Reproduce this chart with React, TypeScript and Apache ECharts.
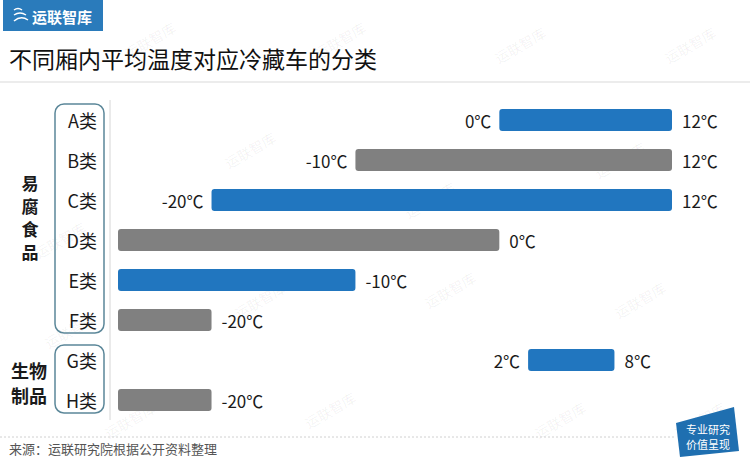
import React, { useEffect, useRef } from "react";
import * as echarts from "echarts";

const categories = ["A类", "B类", "C类", "D类", "E类", "F类", "G类", "H类"];
// lower temperature bound (null = no lower bound, bar starts at the axis minimum)
const lowTemps: (number | null)[] = [0, -10, -20, null, null, null, 2, null];
// upper temperature bound
const highTemps: number[] = [12, 12, 12, 0, -10, -20, 8, -20];
const barColors = ["#2176bf", "#808080", "#2176bf", "#808080", "#2176bf", "#808080", "#2176bf", "#808080"];
const groupFood = ["易", "腐", "食", "品"];
const groupBio = ["生物", "制品"];
const title = "不同厢内平均温度对应冷藏车的分类";
const source = "来源：运联研究院根据公开资料整理";
const brand = "运联智库";
const badge = "专业研究\n价值呈现";

const X_MIN = -26.5;
const X_MAX = 12;
const FONT = "'Noto Sans CJK SC', 'Noto Sans', sans-serif";

const watermarkPos: [number, number][] = [
  [150, 40], [340, 40], [520, 45], [690, 45],
  [60, 240], [250, 150], [430, 200], [620, 160],
  [70, 330], [260, 300], [450, 290], [640, 300],
  [130, 420], [330, 410], [560, 420], [700, 420],
];

export default function App() {
  const ref = useRef<HTMLDivElement>(null);
  useEffect(() => {
    if (!ref.current) return;
    const chart = echarts.init(ref.current, undefined, { renderer: "svg" });
    const data = categories.map((c, i) => [
      i,
      lowTemps[i] === null ? X_MIN : (lowTemps[i] as number),
      highTemps[i],
      lowTemps[i] === null ? 0 : 1,
    ]);

    const watermarks = watermarkPos.map(([x, y]) => ({
      type: "text",
      x,
      y,
      rotation: Math.PI / 6,
      silent: true,
      z: 0,
      style: {
        text: brand,
        font: `14px ${FONT}`,
        fill: "rgba(0,0,0,0.06)",
        align: "center",
        verticalAlign: "middle",
      },
    }));

    const foodChars = groupFood.map((ch, i) => ({
      type: "text",
      x: 30,
      y: 182 + i * 23,
      style: {
        text: ch,
        font: `bold 17px ${FONT}`,
        fill: "#1a1a1a",
        align: "center",
        verticalAlign: "middle",
      },
    }));
    const bioLines = groupBio.map((ln, i) => ({
      type: "text",
      x: 29,
      y: 370 + i * 25,
      style: {
        text: ln,
        font: `bold 18px ${FONT}`,
        fill: "#1a1a1a",
        align: "center",
        verticalAlign: "middle",
      },
    }));

    chart.setOption({
      animation: false,
      backgroundColor: "#ffffff",
      grid: { left: 118, right: 78, top: 100, bottom: 40 },
      xAxis: {
        type: "value",
        min: X_MIN,
        max: X_MAX,
        show: false,
      },
      yAxis: {
        type: "category",
        data: categories,
        inverse: true,
        axisLine: { show: false },
        axisTick: { show: false },
        splitLine: { show: false },
        axisLabel: {
          margin: 21,
          fontSize: 18,
          color: "#1a1a1a",
          fontFamily: FONT,
        },
      },
      series: [
        {
          type: "custom",
          encode: { x: [1, 2], y: 0 },
          data,
          renderItem: (params: any, api: any) => {
            const idx = api.value(0);
            const lo = api.value(1);
            const hi = api.value(2);
            const hasLow = api.value(3) === 1;
            const p0 = api.coord([lo, idx]);
            const p1 = api.coord([hi, idx]);
            const h = api.size([0, 1])[1] * 0.55;
            const color = barColors[params.dataIndex];
            const children: any[] = [
              {
                type: "rect",
                shape: { x: p0[0], y: p0[1] - h / 2, width: p1[0] - p0[0], height: h, r: 3 },
                style: { fill: color },
              },
              {
                type: "text",
                x: p1[0] + 10,
                y: p1[1],
                style: {
                  text: `${hi}℃`,
                  font: `17px ${FONT}`,
                  fill: "#1a1a1a",
                  align: "left",
                  verticalAlign: "middle",
                },
              },
            ];
            if (hasLow) {
              children.push({
                type: "text",
                x: p0[0] - 8,
                y: p0[1],
                style: {
                  text: `${lo}℃`,
                  font: `17px ${FONT}`,
                  fill: "#1a1a1a",
                  align: "right",
                  verticalAlign: "middle",
                },
              });
            }
            return { type: "group", children };
          },
        },
      ],
      graphic: [
        ...watermarks,
        // header brand box
        {
          type: "rect",
          shape: { x: 3, y: 0, width: 100, height: 31 },
          style: { fill: "#2a7bbb" },
        },
        {
          type: "bezierCurve",
          shape: { x1: 14, y1: 10, x2: 22, y2: 10, cpx1: 18, cpy1: 7 },
          style: { stroke: "#fff", lineWidth: 1.5, fill: "none" },
        },
        {
          type: "bezierCurve",
          shape: { x1: 14, y1: 15, x2: 26, y2: 15, cpx1: 20, cpy1: 11 },
          style: { stroke: "#fff", lineWidth: 1.5, fill: "none" },
        },
        {
          type: "bezierCurve",
          shape: { x1: 14, y1: 21, x2: 28, y2: 20, cpx1: 21, cpy1: 15 },
          style: { stroke: "#fff", lineWidth: 1.5, fill: "none" },
        },
        {
          type: "text",
          x: 32,
          y: 16,
          style: {
            text: brand,
            font: `bold 15px ${FONT}`,
            fill: "#ffffff",
            verticalAlign: "middle",
          },
        },
        // title
        {
          type: "text",
          x: 9,
          y: 58,
          style: {
            text: title,
            font: `23px ${FONT}`,
            fill: "#111111",
            verticalAlign: "middle",
          },
        },
        {
          type: "line",
          shape: { x1: 0, y1: 82, x2: 750, y2: 82 },
          style: { stroke: "#e6e6e6", lineWidth: 1.5 },
        },
        // category brackets
        {
          type: "rect",
          shape: { x: 55, y: 104, width: 49, height: 229, r: 9 },
          style: { fill: "none", stroke: "#5b8799", lineWidth: 1.5 },
        },
        {
          type: "rect",
          shape: { x: 55, y: 345, width: 49, height: 68, r: 9 },
          style: { fill: "none", stroke: "#5b8799", lineWidth: 1.5 },
        },
        {
          type: "line",
          shape: { x1: 110, y1: 100, x2: 110, y2: 420 },
          style: { stroke: "#d6d6d6", lineWidth: 1 },
        },
        // group labels
        ...foodChars,
        ...bioLines,
        // footer
        {
          type: "line",
          shape: { x1: 0, y1: 437, x2: 676, y2: 437 },
          style: { stroke: "#d0d0d0", lineWidth: 1, lineDash: [2, 2] },
        },
        {
          type: "text",
          x: 9,
          y: 448,
          style: {
            text: source,
            font: `13px ${FONT}`,
            fill: "#555555",
            verticalAlign: "middle",
          },
        },
        {
          type: "polygon",
          shape: { points: [[676, 423], [734, 407], [739, 451], [680, 457]] },
          style: { fill: "#1f6fb0" },
        },
        {
          type: "text",
          x: 708,
          y: 436,
          style: {
            text: badge,
            font: `11px ${FONT}`,
            lineHeight: 15,
            fill: "#ffffff",
            align: "center",
            verticalAlign: "middle",
          },
        },
      ],
    });
    return () => chart.dispose();
  }, []);
  return (
    <div
      ref={ref}
      style={{ position: "fixed", left: 0, top: 0, width: 750, height: 460 }}
    />
  );
}
